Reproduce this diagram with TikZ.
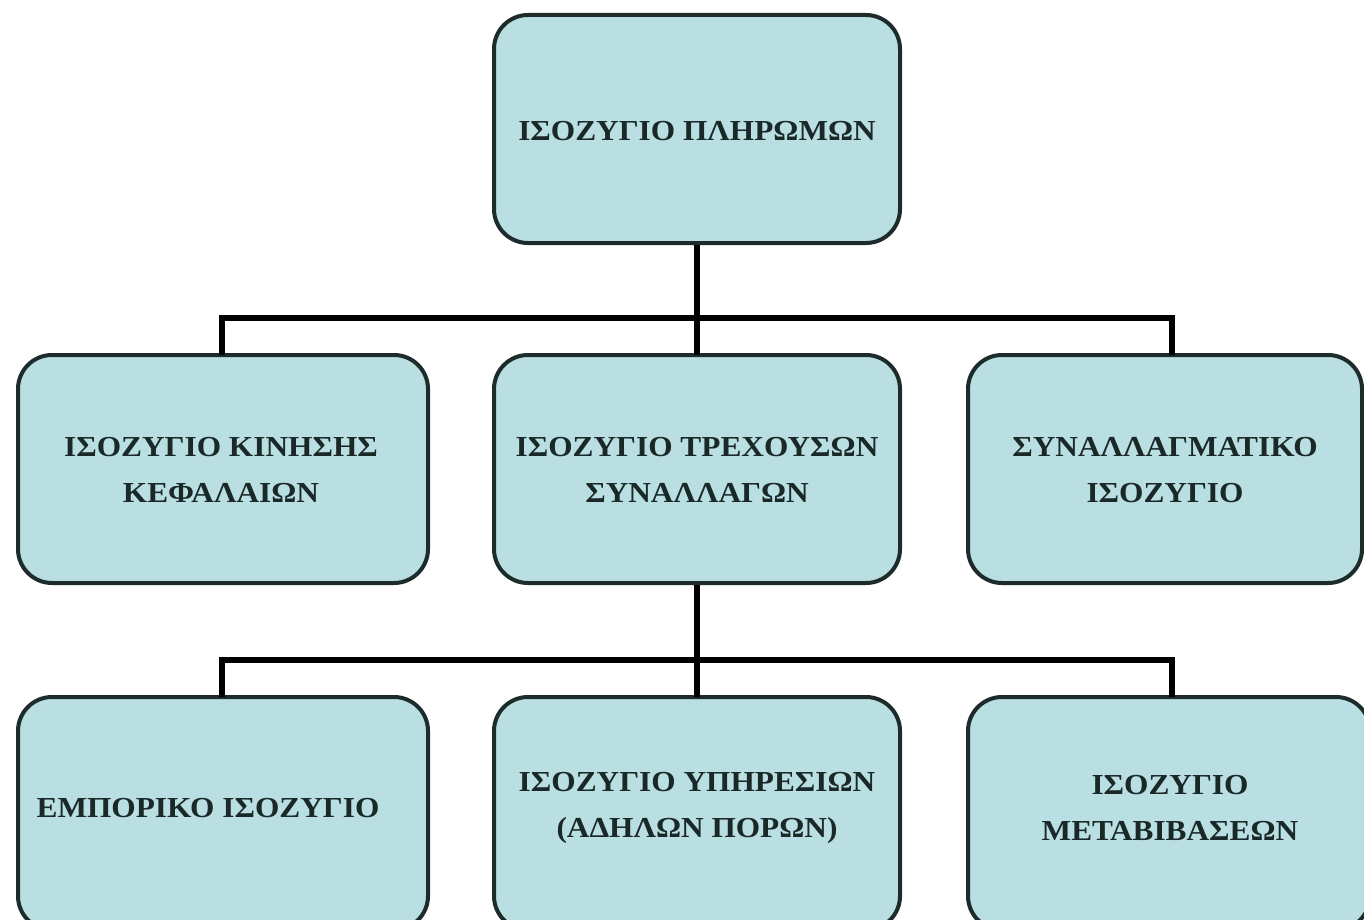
\documentclass[tikz,border=0pt]{standalone}
\usepackage{fontspec}
\setmainfont{Liberation Serif}
\definecolor{boxfill}{HTML}{B9DFE2}
\definecolor{boxline}{HTML}{1E2B2B}
\definecolor{txt}{HTML}{1A2828}
\begin{document}
\begin{tikzpicture}[x=1pt,y=-1pt,
  box/.style={draw=boxline,line width=4pt,fill=boxfill,rounded corners=34pt},
  lbl/.style={text=txt,font=\fontsize{29}{46}\selectfont\bfseries,align=center,xscale=1.08},
  conn/.style={draw=black,line width=6pt}]
\useasboundingbox (0,0) rectangle (1364,920);
\fill[white] (0,0) rectangle (1364,920);
% boxes
\draw[box] (494,15) rectangle (900,243);
\draw[box] (18,355) rectangle (428,583);
\draw[box] (494,355) rectangle (900,583);
\draw[box] (968,355) rectangle (1362,583);
\draw[box] (18,697) rectangle (428,930);
\draw[box] (494,697) rectangle (900,930);
\draw[box] (968,697) rectangle (1370,930);
% nodes
\node[lbl] (top) at (697,131) {ΙΣΟΖΥΓΙΟ ΠΛΗΡΩΜΩΝ};
\node[lbl] (ml) at (221,470) {ΙΣΟΖΥΓΙΟ ΚΙΝΗΣΗΣ\\ΚΕΦΑΛΑΙΩΝ};
\node[lbl] (mm) at (697,470) {ΙΣΟΖΥΓΙΟ ΤΡΕΧΟΥΣΩΝ\\ΣΥΝΑΛΛΑΓΩΝ};
\node[lbl] (mr) at (1165,470) {ΣΥΝΑΛΛΑΓΜΑΤΙΚΟ\\ΙΣΟΖΥΓΙΟ};
\node[lbl] (bl) at (208,808) {ΕΜΠΟΡΙΚΟ ΙΣΟΖΥΓΙΟ};
\node[lbl] (bm) at (697,808) {ΙΣΟΖΥΓΙΟ ΥΠΗΡΕΣΙΩΝ\\(ΑΔΗΛΩΝ ΠΟΡΩΝ)};
\node[lbl] (br) at (1170,808) {ΙΣΟΖΥΓΙΟ\\ΜΕΤΑΒΙΒΑΣΕΩΝ};
% connector coordinates
\coordinate (t0) at (697,245);
\coordinate (j1) at (697,318);
\coordinate (l1) at (222,318);
\coordinate (r1) at (1172,318);
\coordinate (l1b) at (222,355);
\coordinate (m1b) at (697,355);
\coordinate (r1b) at (1172,355);
\coordinate (m0) at (697,585);
\coordinate (j2) at (697,660);
\coordinate (l2) at (222,660);
\coordinate (r2) at (1172,660);
\coordinate (l2b) at (222,697);
\coordinate (m2b) at (697,697);
\coordinate (r2b) at (1172,697);
\draw[conn] (t0) -- (j1);
\draw[conn] (l1b) -- (l1) -- (r1) -- (r1b);
\draw[conn] (j1) -- (m1b);
\draw[conn] (m0) -- (j2);
\draw[conn] (l2b) -- (l2) -- (r2) -- (r2b);
\draw[conn] (j2) -- (m2b);
\end{tikzpicture}
\end{document}
